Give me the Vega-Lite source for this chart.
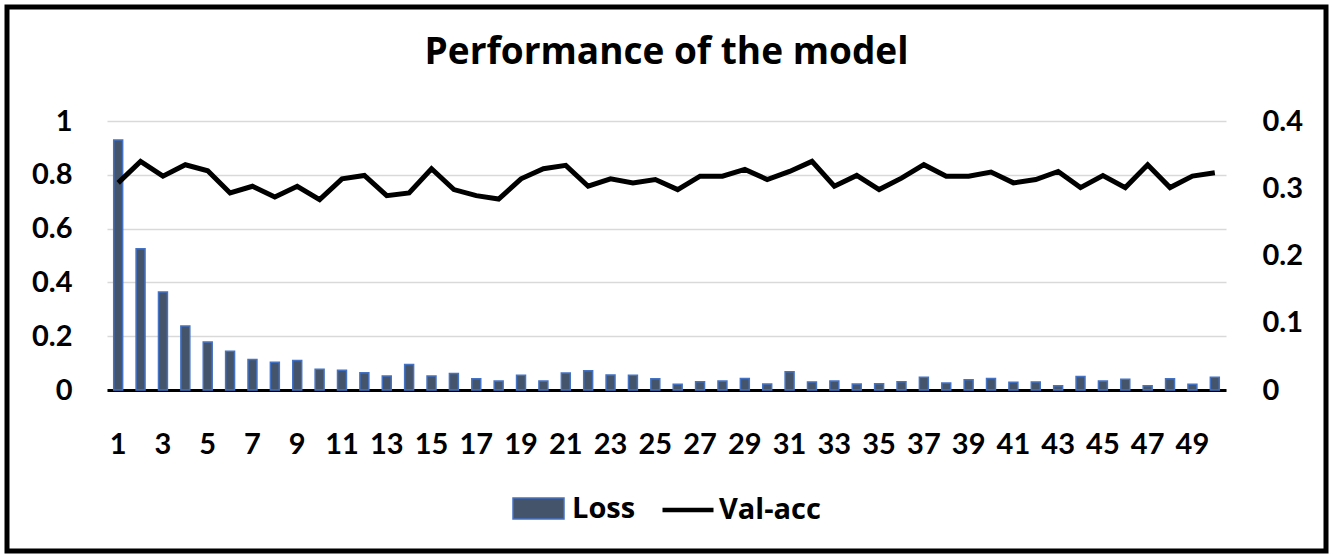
{
  "$schema": "https://vega.github.io/schema/vega-lite/v6.json",
  "width": 1319,
  "height": 544,
  "autosize": "none",
  "padding": {"left": 7, "top": 7, "right": 8, "bottom": 4},
  "background": "white",
  "title": {"text": "Performance of the model", "font": "Open Sans", "fontSize": 37, "fontWeight": "bold", "color": "black", "anchor": "middle", "frame": "group", "baseline": "alphabetic", "offset": -94},
  "data": {"values": [
    {"epoch": 1, "loss": 0.929, "acc": 0.308},
    {"epoch": 2, "loss": 0.525, "acc": 0.340},
    {"epoch": 3, "loss": 0.364, "acc": 0.318},
    {"epoch": 4, "loss": 0.238, "acc": 0.335},
    {"epoch": 5, "loss": 0.178, "acc": 0.326},
    {"epoch": 6, "loss": 0.144, "acc": 0.293},
    {"epoch": 7, "loss": 0.113, "acc": 0.303},
    {"epoch": 8, "loss": 0.103, "acc": 0.287},
    {"epoch": 9, "loss": 0.110, "acc": 0.303},
    {"epoch": 10, "loss": 0.077, "acc": 0.283},
    {"epoch": 11, "loss": 0.073, "acc": 0.314},
    {"epoch": 12, "loss": 0.064, "acc": 0.319},
    {"epoch": 13, "loss": 0.052, "acc": 0.289},
    {"epoch": 14, "loss": 0.095, "acc": 0.293},
    {"epoch": 15, "loss": 0.052, "acc": 0.329},
    {"epoch": 16, "loss": 0.061, "acc": 0.298},
    {"epoch": 17, "loss": 0.042, "acc": 0.289},
    {"epoch": 18, "loss": 0.033, "acc": 0.284},
    {"epoch": 19, "loss": 0.055, "acc": 0.314},
    {"epoch": 20, "loss": 0.033, "acc": 0.329},
    {"epoch": 21, "loss": 0.063, "acc": 0.334},
    {"epoch": 22, "loss": 0.072, "acc": 0.303},
    {"epoch": 23, "loss": 0.056, "acc": 0.314},
    {"epoch": 24, "loss": 0.055, "acc": 0.308},
    {"epoch": 25, "loss": 0.042, "acc": 0.313},
    {"epoch": 26, "loss": 0.021, "acc": 0.298},
    {"epoch": 27, "loss": 0.031, "acc": 0.318},
    {"epoch": 28, "loss": 0.033, "acc": 0.318},
    {"epoch": 29, "loss": 0.043, "acc": 0.328},
    {"epoch": 30, "loss": 0.022, "acc": 0.313},
    {"epoch": 31, "loss": 0.068, "acc": 0.325},
    {"epoch": 32, "loss": 0.030, "acc": 0.340},
    {"epoch": 33, "loss": 0.033, "acc": 0.303},
    {"epoch": 34, "loss": 0.022, "acc": 0.319},
    {"epoch": 35, "loss": 0.023, "acc": 0.298},
    {"epoch": 36, "loss": 0.031, "acc": 0.315},
    {"epoch": 37, "loss": 0.047, "acc": 0.335},
    {"epoch": 38, "loss": 0.026, "acc": 0.318},
    {"epoch": 39, "loss": 0.038, "acc": 0.318},
    {"epoch": 40, "loss": 0.043, "acc": 0.324},
    {"epoch": 41, "loss": 0.029, "acc": 0.308},
    {"epoch": 42, "loss": 0.030, "acc": 0.313},
    {"epoch": 43, "loss": 0.016, "acc": 0.325},
    {"epoch": 44, "loss": 0.050, "acc": 0.301},
    {"epoch": 45, "loss": 0.033, "acc": 0.319},
    {"epoch": 46, "loss": 0.040, "acc": 0.301},
    {"epoch": 47, "loss": 0.016, "acc": 0.335},
    {"epoch": 48, "loss": 0.042, "acc": 0.301},
    {"epoch": 49, "loss": 0.021, "acc": 0.318},
    {"epoch": 50, "loss": 0.047, "acc": 0.323}
  ]},
  "encoding": {
    "x": {"field": "epoch", "type": "ordinal", "title": null,
      "scale": {"paddingInner": 0.6, "paddingOuter": 0.3, "range": [100, 1219]},
      "axis": {"values": [1,3,5,7,9,11,13,15,17,19,21,23,25,27,29,31,33,35,37,39,41,43,45,47,49], "labelAngle": 0, "labelPadding": 40, "offset": -161, "ticks": false, "domainColor": "black", "domainWidth": 3, "grid": false}}
  },
  "layer": [
    {
      "mark": {"type": "bar", "stroke": "#4472C4", "strokeWidth": 1.5},
      "encoding": {
        "y": {"field": "loss", "type": "quantitative", "title": null,
          "scale": {"domain": [0, 1], "nice": false, "range": [383, 114]},
          "axis": {"orient": "left", "offset": -100, "values": [0, 0.2, 0.4, 0.6, 0.8, 1], "format": "~g", "labelPadding": 35, "domain": false, "ticks": false, "grid": true, "gridColor": "#D9D9D9", "gridWidth": 1.5}},
        "fill": {"datum": "Loss", "type": "nominal",
          "scale": {"range": ["#44546A"]},
          "legend": {"legendX": 505, "legendY": 475, "symbolType": "M-1,-0.41H1V0.41H-1Z", "symbolStrokeColor": "#4472C4", "symbolStrokeWidth": 1.5, "labelOffset": 7}}
      }
    },
    {
      "mark": {"type": "line", "strokeWidth": 5},
      "encoding": {
        "y": {"field": "acc", "type": "quantitative", "title": null,
          "scale": {"domain": [0, 0.4], "nice": false, "range": [383, 114]},
          "axis": {"orient": "right", "offset": -100, "values": [0, 0.1, 0.2, 0.3, 0.4], "format": "~g", "labelPadding": 36, "domain": false, "ticks": false, "grid": false}},
        "stroke": {"datum": "Val-acc", "type": "nominal",
          "scale": {"range": ["#000000"]},
          "legend": {"legendX": 653, "legendY": 475, "symbolType": "stroke", "symbolStrokeWidth": 4.5, "labelOffset": 3}}
      }
    }
  ],
  "resolve": {"scale": {"y": "independent"}},
  "config": {
    "view": {"stroke": "black", "strokeWidth": 5},
    "axis": {"labelFont": "Lato", "labelFontWeight": "bold", "labelFontSize": 29, "labelColor": "black"},
    "legend": {
      "orient": "none", "direction": "horizontal", "title": null,
      "padding": 0, "symbolSize": 2601, "labelFont": "Open Sans", "labelFontWeight": "bold", "labelFontSize": 29, "labelColor": "black"
    }
  }
}
